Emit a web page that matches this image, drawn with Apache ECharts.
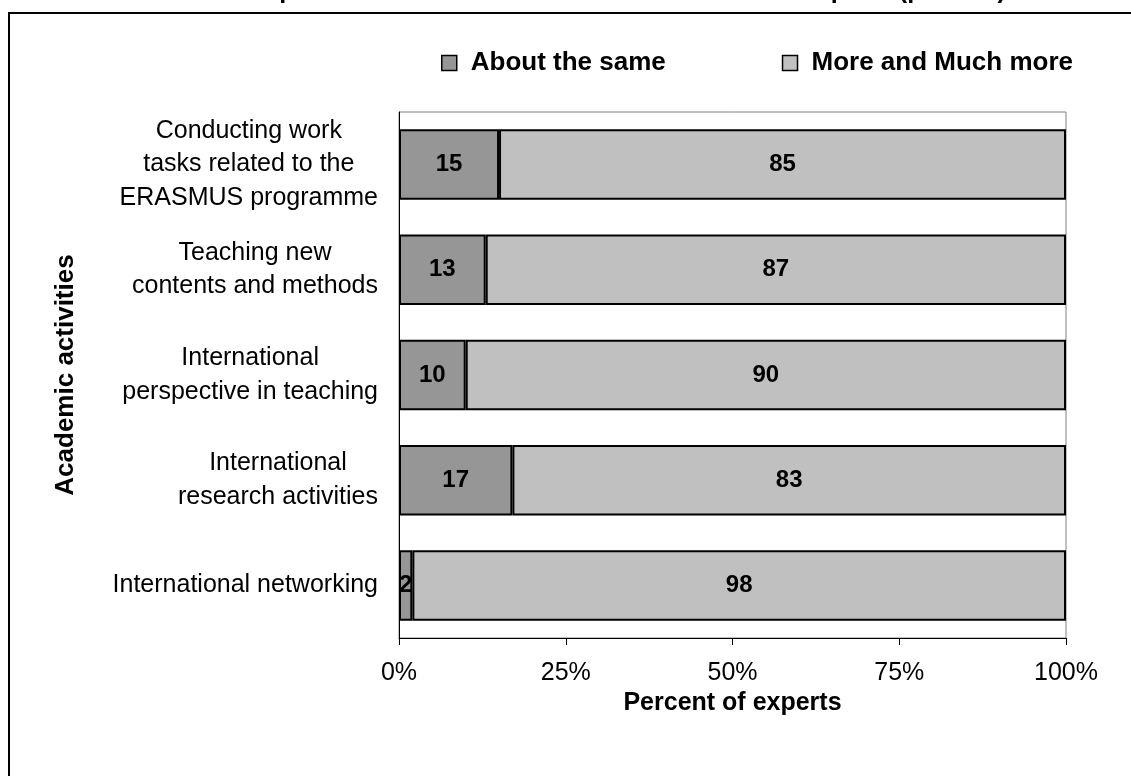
<!DOCTYPE html>
<html><head><meta charset="utf-8">
<script src="https://cdn.jsdelivr.net/npm/echarts@6/dist/echarts.min.js"></script>
<style>html,body{margin:0;padding:0;background:#fff}#c{width:1131px;height:776px}</style>
</head><body><div id="c"></div>
<script>
const titleText = 'Impact of ERASMUS on academic activities of experts (percent)';
const categories = [
  'Conducting work\ntasks related to the\nERASMUS programme',
  'Teaching new\ncontents and methods',
  'International\nperspective in teaching',
  'International\nresearch activities',
  'International networking'
];
const seriesNames = ['About the same', 'More and Much more'];
const aboutSame = [15, 13, 10, 17, 2];
const moreMuchMore = [85, 87, 90, 83, 98];
const xAxisName = 'Percent of experts';
const yAxisName = 'Academic activities';

const FONT = "'Liberation Sans', Arial, sans-serif";
const chart = echarts.init(document.getElementById('c'), null, {renderer: 'canvas'});

const labelStyle = {show: true, position: 'inside', color: '#000', fontWeight: 'bold', fontSize: 24, fontFamily: FONT};

chart.setOption({
  animation: false,
  backgroundColor: '#fff',
  textStyle: {fontFamily: FONT},
  graphic: [
    {type: 'rect', shape: {x: 9, y: 13, width: 1300, height: 900}, style: {fill: 'none', stroke: '#000', lineWidth: 2}, z: 0},
    {type: 'text', x: 250, y: -9, style: {text: titleText, font: "bold 25px 'Liberation Sans', Arial", fill: '#000', align: 'left', verticalAlign: 'middle'}}
  ],
  legend: {
    data: seriesNames,
    left: 441, top: 50, padding: 0,
    icon: 'rect', itemWidth: 15, itemHeight: 15, itemGap: 116,
    itemStyle: {borderColor: '#000', borderWidth: 1.5},
    textStyle: {fontSize: 26, fontWeight: 'bold', color: '#000', fontFamily: FONT, padding: [0, 0, 0, 9]}
  },
  grid: {left: 399, right: 65, top: 112, bottom: 138, show: true, borderColor: '#808080', borderWidth: 1, containLabel: false},
  xAxis: {
    type: 'value', min: 0, max: 100, interval: 25,
    name: xAxisName, nameLocation: 'middle', nameGap: 49,
    nameTextStyle: {fontSize: 25, fontWeight: 'bold', color: '#000', fontFamily: FONT},
    axisLine: {show: true, lineStyle: {color: '#000', width: 1}},
    axisTick: {show: true, length: 7, lineStyle: {color: '#000'}},
    splitLine: {show: false},
    axisLabel: {formatter: '{value}%', fontSize: 25, color: '#000', margin: 23, fontFamily: FONT}
  },
  yAxis: {
    type: 'category', data: categories, inverse: true,
    name: yAxisName, nameLocation: 'middle', nameGap: 320, nameRotate: 90,
    nameTextStyle: {fontSize: 26, fontWeight: 'bold', color: '#000', fontFamily: FONT},
    axisLine: {show: true, lineStyle: {color: '#000', width: 1}},
    axisTick: {show: false},
    splitLine: {show: false},
    axisLabel: {
      margin: 21, color: '#000', fontSize: 25, fontFamily: FONT, lineHeight: 33.5,
      formatter: v => v.split('\n').map(s => '{c|' + s + '}').join('\n'),
      rich: {c: {align: 'center', fontSize: 25, lineHeight: 33.5, color: '#000', fontFamily: FONT}}
    }
  },
  series: [
    {name: seriesNames[0], type: 'bar', stack: 's', data: aboutSame, barCategoryGap: '33%',
     itemStyle: {color: '#969696', borderColor: '#000', borderWidth: 2}, label: labelStyle},
    {name: seriesNames[1], type: 'bar', stack: 's', data: moreMuchMore, barCategoryGap: '33%',
     itemStyle: {color: '#C0C0C0', borderColor: '#000', borderWidth: 2}, label: labelStyle}
  ]
});
</script></body></html>
